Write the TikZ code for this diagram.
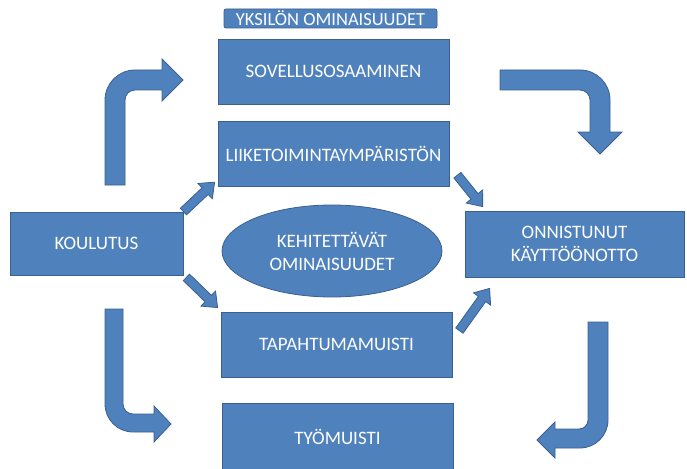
\documentclass[tikz,border=0pt]{standalone}
\usepackage{fontspec}
\setmainfont{Carlito}
\usetikzlibrary{calc,positioning,shapes.geometric}

\definecolor{boxblue}{HTML}{4F81BD}
\definecolor{edgeblue}{HTML}{3A6090}

% straight block arrow between two named points
\newcommand{\blockarrow}[2]{%
  \coordinate (ba-h) at ($(#2)!13pt!(#1)$);
  \filldraw[arrowshape] ($(#1)!4.5pt!90:(#2)$) -- ($(ba-h)!4.5pt!90:(#2)$)
    -- ($(ba-h)!10.5pt!90:(#2)$) -- (#2) -- ($(ba-h)!10.5pt!-90:(#2)$)
    -- ($(ba-h)!4.5pt!-90:(#2)$) -- ($(#1)!4.5pt!-90:(#2)$) -- cycle;}

\begin{document}
\begin{tikzpicture}[
  x=1pt, y=-1pt,
  font=\fontsize{19}{23}\selectfont,
  box/.style={draw=edgeblue, fill=boxblue, text=white, line width=0.8pt,
    inner sep=0pt, minimum width=231pt, minimum height=65pt, align=center},
  titlebox/.style={box, rounded corners=2pt, minimum width=213pt,
    minimum height=19pt, font=\fontsize{18.5}{20}\selectfont},
  oval/.style={box, ellipse, minimum width=220pt, minimum height=92pt},
  arrowshape/.style={draw=edgeblue, fill=boxblue, line width=0.8pt}
]
\useasboundingbox (0,0) rectangle (687,468);

\node[box] (sov) at (333.5,71.5) {SOVELLUSOSAAMINEN};
\node[titlebox] (title) at (330.5,18.5) {YKSILÖN OMINAISUUDET};
\node[box,below=17pt of sov] (liike) {LIIKETOIMINTAYMPÄRISTÖN};
\node[box,minimum width=173pt,minimum height=63pt] (koulutus) at (96.5,243.5) {KOULUTUS};
\node[oval] (kehit) at (332,251) {KEHITETTÄVÄT\\OMINAISUUDET};
\node[box,minimum width=219pt,minimum height=66pt] (onnistunut) at (574.5,244) {ONNISTUNUT\\KÄYTTÖÖNOTTO};
\node[box] (tapahtuma) at (336.5,344.5) {TAPAHTUMAMUISTI};
\node[box,minimum height=67pt] (tyomuisti) at (337.5,436.5) {TYÖMUISTI};

% ends of the straight arrows
\coordinate (a1) at (koulutus.north east);
\coordinate (a2) at ($(liike.south west)+(-3,-5)$);
\coordinate (b1) at ($(koulutus.south east)+(3,2)$);
\coordinate (b2) at ($(tapahtuma.north west)+(-3,-4)$);
\coordinate (c1) at ($(liike.south east)+(8,-12)$);
\coordinate (c2) at ($(onnistunut.north west)+(18,-4)$);
\coordinate (d1) at ($(tapahtuma.north east)+(7,19)$);
\coordinate (d2) at ($(onnistunut.south west)+(25,11)$);

\blockarrow{a1}{a2}
\blockarrow{b1}{b2}
\blockarrow{c1}{c2}
\blockarrow{d1}{d2}

% bent arrows
\filldraw[arrowshape] (105,185) -- (105,100) .. controls (105,83.4) and (118.4,70) .. (135,70)
  -- (162,70) -- (162,59) -- (183,80) -- (162,101) -- (162,90) -- (135,90)
  .. controls (129.5,90) and (125,94.5) .. (125,100) -- (125,185) -- cycle;
\filldraw[arrowshape] (500,70) -- (580,70) .. controls (596.6,70) and (610,83.4) .. (610,100)
  -- (610,132) -- (622,132) -- (600,154) -- (578,132) -- (590,132) -- (590,100)
  .. controls (590,94.5) and (585.5,90) .. (580,90) -- (500,90) -- cycle;
\filldraw[arrowshape] (105,309) -- (105,404) .. controls (105,419.5) and (117.5,432) .. (133,432)
  -- (154,432) -- (154,442) -- (171,424) -- (154,406) -- (154,414) -- (133,414)
  .. controls (127.5,414) and (123,409.5) .. (123,404) -- (123,309) -- cycle;
\filldraw[arrowshape] (588,322) -- (608,322) -- (608,420) .. controls (608,435.5) and (595.5,448) .. (580,448)
  -- (555,448) -- (555,458) -- (537,440) -- (555,422) -- (555,429) -- (579,429)
  .. controls (584,429) and (588,425) .. (588,420) -- cycle;
\end{tikzpicture}
\end{document}
